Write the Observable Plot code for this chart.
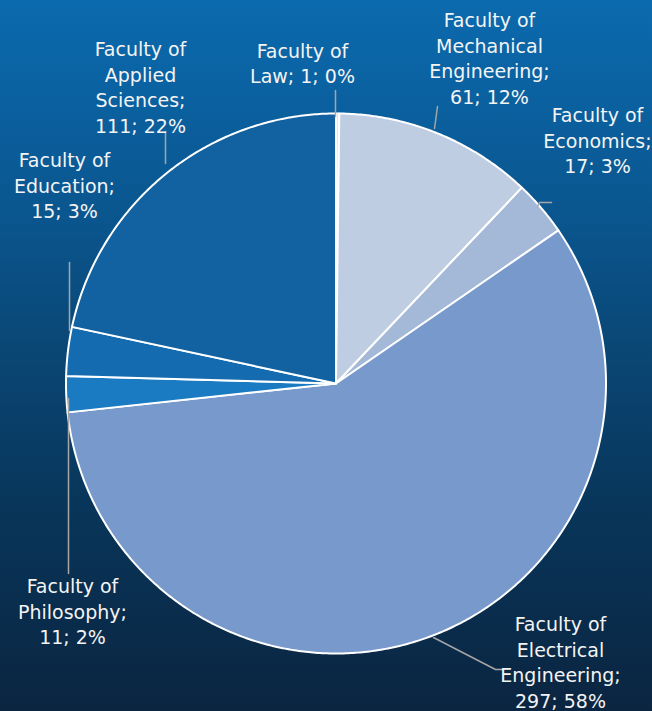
<!DOCTYPE html>
<html>
<head>
<meta charset="utf-8">
<script src="https://cdn.jsdelivr.net/npm/d3@7"></script>
<script src="https://cdn.jsdelivr.net/npm/@observablehq/plot@0.6"></script>
<style>
  html, body { margin: 0; padding: 0; }
  body { width: 652px; height: 711px; overflow: hidden; }
  #chart {
    width: 652px; height: 711px;
    background: linear-gradient(to bottom, #0b6aae 0%, #0a568f 30%, #0a4674 50%, #083559 72%, #0b2541 100%);
  }
  #chart svg { background: transparent; display: block; }
</style>
</head>
<body>
<div id="chart"></div>
<script>
// ---- data ----
const faculties = ["Faculty of\nLaw", "Faculty of\nMechanical\nEngineering", "Faculty of\nEconomics", "Faculty of\nElectrical\nEngineering", "Faculty of\nPhilosophy", "Faculty of\nEducation", "Faculty of\nApplied\nSciences"];
const students = [1, 61, 17, 297, 11, 15, 111];

// ---- styles / layout ----
const colors = ["#dfe7f2", "#bfcde3", "#a4b8d8", "#7899cb", "#1a7bc3", "#146bb0", "#1261a0"];
const sep = ["; ", ";\n", ";\n", ";\n", ";\n", ";\n", ";\n"];
const center = {x: 335.5, y: 383}, radius = 270;
const labelPos = [[302, 62], [489, 57], [597, 139], [560, 661], [72, 610], [64, 184], [140, 86]];
const leaders = [
  [[335, 90], [335, 116]],
  [[434, 128], [437, 106]],
  [[537, 206], [539, 202], [551, 202]],
  [[433, 637], [495, 669], [503, 669]],
  [[68, 398], [68, 573]],
  [[69, 262], [69, 330]],
  [[165, 163], [165, 131]]
];

const total = d3.sum(students);
const arcs = d3.pie().sort(null).value(d => d)(students);

function slicePoints(a, i) {
  const pts = [{x: center.x, y: center.y, i}];
  const n = Math.max(2, Math.ceil((a.endAngle - a.startAngle) / (Math.PI / 360)));
  for (let k = 0; k <= n; k++) {
    const t = a.startAngle + (a.endAngle - a.startAngle) * k / n;
    pts.push({x: center.x + radius * Math.sin(t), y: center.y - radius * Math.cos(t), i});
  }
  pts.push({x: center.x, y: center.y, i});
  return pts;
}

const labels = faculties.map((f, i) => ({
  text: f + sep[i] + students[i] + "; " + Math.round(students[i] / total * 100) + "%",
  x: labelPos[i][0], y: labelPos[i][1]
}));
const leaderPts = leaders.flatMap((l, i) => l.map(([x, y]) => ({x, y, i})));

const chart = Plot.plot({
  width: 652, height: 711,
  margin: 0,
  style: {background: "transparent", overflow: "visible"},
  x: {domain: [0, 652], range: [0, 652], axis: null},
  y: {domain: [0, 711], range: [0, 711], axis: null},
  marks: [
    ...arcs.map((a, i) => Plot.line(slicePoints(a, i), {
      x: "x", y: "y", fill: colors[i], stroke: "white", strokeWidth: 2, strokeLinejoin: "round", curve: "linear"
    })),
    Plot.line(leaderPts, {x: "x", y: "y", z: "i", stroke: "#a6a6a6", strokeWidth: 1.5}),
    Plot.text(labels, {
      x: "x", y: "y", text: "text", fill: "#f4f4f4",
      fontSize: 19, fontFamily: "DejaVu Sans, Verdana, sans-serif",
      lineHeight: 1.34, textAnchor: "middle", lineAnchor: "middle"
    })
  ]
});
document.getElementById("chart").appendChild(chart);
</script>
</body>
</html>
